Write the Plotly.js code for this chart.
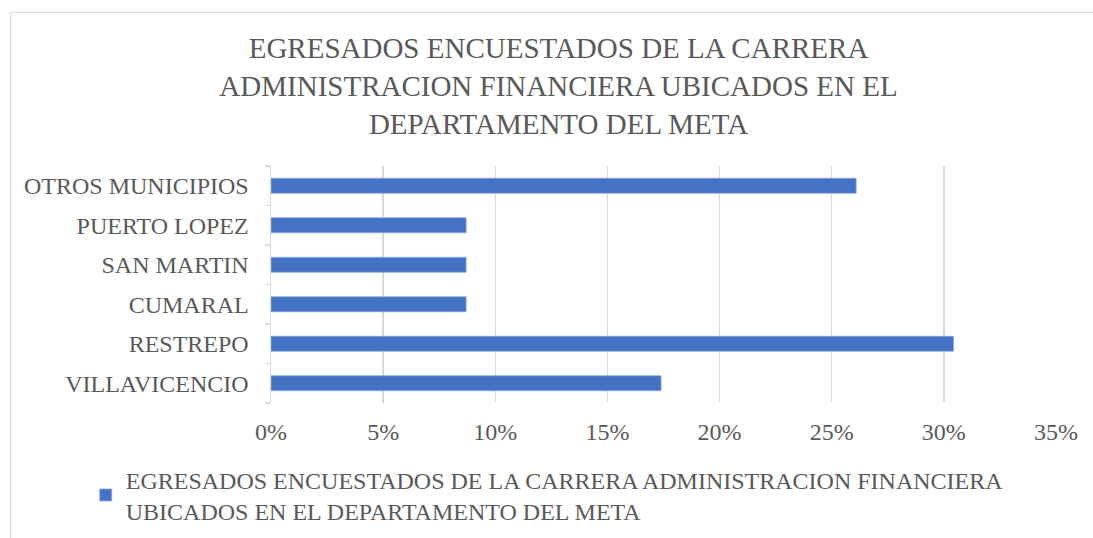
<!DOCTYPE html>
<html>
<head>
<meta charset="utf-8">
<script src="https://cdn.plot.ly/plotly-3.0.1.min.js"></script>
<style>
  html, body { margin:0; padding:0; background:#ffffff; overflow:hidden; }
  #frame { position:absolute; left:10px; top:12px; width:1200px; height:700px; border:1px solid #d9d9d9; box-sizing:border-box; }
  #chart { position:absolute; left:0; top:0; width:1093px; height:538px; }
</style>
</head>
<body>
<div id="frame"></div>
<div id="chart"></div>
<script>
// Data (bottom to top as drawn)
const municipios = ["VILLAVICENCIO", "RESTREPO", "CUMARAL", "SAN MARTIN", "PUERTO LOPEZ", "OTROS MUNICIPIOS"];
const porcentajes = [0.1739, 0.3043, 0.0870, 0.0870, 0.0870, 0.2609];
const serieNombre = "EGRESADOS ENCUESTADOS DE LA CARRERA ADMINISTRACION FINANCIERA<br>UBICADOS EN EL DEPARTAMENTO DEL META";
const tituloTexto = "EGRESADOS ENCUESTADOS DE LA CARRERA<br>ADMINISTRACION FINANCIERA UBICADOS EN EL<br>DEPARTAMENTO DEL META";
const xTicks = [0, 0.05, 0.10, 0.15, 0.20, 0.25, 0.30, 0.35];

const fontFam = "'Liberation Serif', 'Times New Roman', serif";
const trace = {
  type: "bar",
  orientation: "h",
  x: porcentajes,
  y: municipios,
  name: serieNombre,
  marker: { color: "#4472C4", line: { color: "#8FAADC", width: 0.8 } },
  showlegend: true,
  hoverinfo: "x+y"
};

const layout = {
  width: 1093,
  height: 538,
  paper_bgcolor: "rgba(0,0,0,0)",
  plot_bgcolor: "rgba(0,0,0,0)",
  margin: { l: 271, r: 37, t: 166, b: 135, autoexpand: false },
  bargap: 0.62,
  title: {
    text: tituloTexto,
    font: { family: fontFam, size: 29, color: "#595959" },
    x: 0.511, xanchor: "center",
    yref: "container",
    y: 0.892, yanchor: "middle"
  },
  xaxis: {
    range: [0, 0.35],
    tickvals: xTicks,
    tickformat: ".0%",
    showgrid: true,
    gridcolor: "#d9d9d9",
    gridwidth: 1.5,
    zeroline: false,
    showline: false,
    ticks: "",
    ticklabelstandoff: 12,
    tickfont: { family: fontFam, size: 24, color: "#595959" },
    fixedrange: true
  },
  yaxis: {
    type: "category",
    categoryorder: "array",
    categoryarray: municipios,
    showgrid: false,
    zeroline: false,
    showline: true,
    linecolor: "#d9d9d9",
    linewidth: 1.5,
    ticks: "outside",
    tickson: "boundaries",
    ticklen: 5,
    tickcolor: "#d9d9d9",
    tickwidth: 1.5,
    ticklabelstandoff: 16,
    tickfont: { family: fontFam, size: 24, color: "#595959" },
    fixedrange: true
  },
  legend: {
    orientation: "v",
    x: -0.236, xanchor: "left",
    y: -0.229, yanchor: "top",
    font: { family: fontFam, size: 24, color: "#595959" },
    bgcolor: "rgba(0,0,0,0)"
  },
  showlegend: true
};

Plotly.newPlot("chart", [trace], layout, { displayModeBar: false, staticPlot: true });
</script>
</body>
</html>
